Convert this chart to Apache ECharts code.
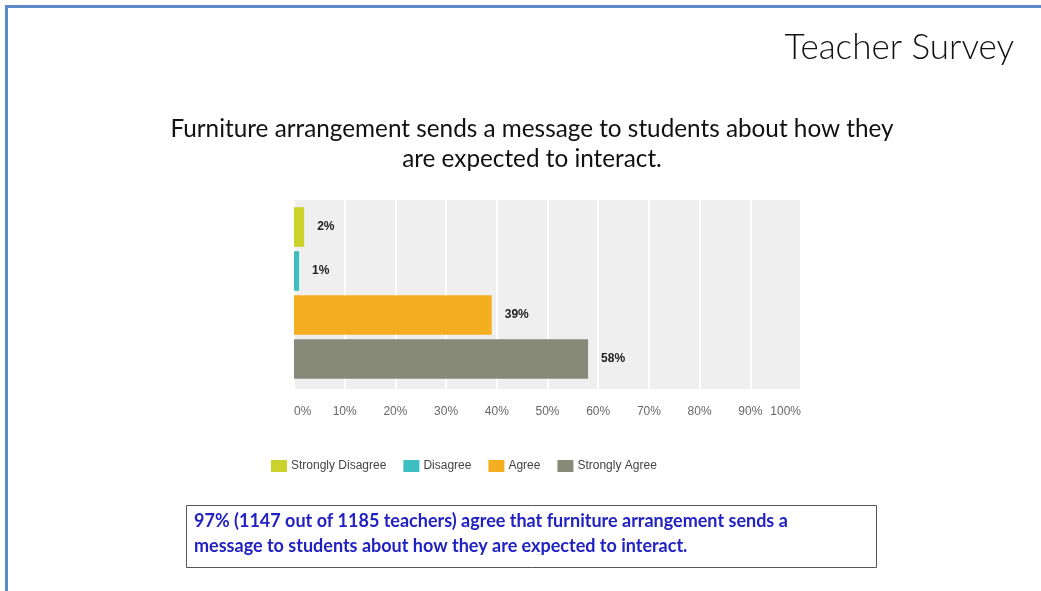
<!DOCTYPE html>
<html>
<head>
<meta charset="utf-8">
<script src="https://cdn.jsdelivr.net/npm/echarts@6/dist/echarts.min.js"></script>
<style>
html,body{margin:0;padding:0;background:#fff;}
#chart{width:1041px;height:591px;}
</style>
</head>
<body>
<div id="chart"></div>
<script>
const categories = ['Strongly Disagree', 'Disagree', 'Agree', 'Strongly Agree'];
const values = [2, 1, 39, 58];
const colors = ['#cbd22c', '#3dbfc2', '#f5ae1f', '#878a78'];
const headerText = 'Teacher Survey';
const questionText = 'Furniture arrangement sends a message to students about how they\nare expected to interact.';
const summaryText = '97% (1147 out of 1185 teachers) agree that furniture arrangement sends a\nmessage to students about how they are expected to interact.';

const chart = echarts.init(document.getElementById('chart'), null, {renderer: 'canvas'});

const series = categories.map((name, i) => ({
  name: name,
  type: 'bar',
  stack: 'all',
  xAxisIndex: 0,
  yAxisIndex: 0,
  barCategoryGap: '10%',
  itemStyle: {color: colors[i]},
  label: {
    show: true,
    position: 'right',
    distance: 13,
    formatter: p => p.value + '%',
    color: '#222',
    fontWeight: 'bold',
    fontFamily: 'Arial, Liberation Sans, sans-serif',
    fontSize: 12
  },
  data: categories.map((c, j) => j === i ? values[i] : '-')
}));

chart.setOption({
  animation: false,
  title: [
    {
      text: headerText, right: 22, top: 25,
      textStyle: {fontFamily: 'Lato', fontWeight: 300, fontSize: 35, color: '#111'}
    },
    {
      text: questionText, left: 527, textAlign: 'center', top: 109,
      textStyle: {fontFamily: 'Lato', fontWeight: 'normal', fontSize: 24.3, color: '#111', lineHeight: 30}
    }
  ],
  legend: {
    left: 271, top: 460, padding: 0,
    itemWidth: 16, itemHeight: 12, itemGap: 17,
    icon: 'rect',
    textStyle: {fontFamily: 'Arial, Liberation Sans, sans-serif', fontSize: 12, color: '#444', padding: [0, 0, 0, -1]},
    data: categories
  },
  grid: [
    {left: 294, width: 507, top: 205, height: 176, containLabel: false},
    {left: 294, width: 507, top: 200, height: 189, show: true, backgroundColor: '#efefef', borderWidth: 0}
  ],
  xAxis: [
    {gridIndex: 0, type: 'value', min: 0, max: 100, show: false},
    {
      gridIndex: 1, type: 'value', min: 0, max: 100, interval: 10,
      axisLine: {show: false}, axisTick: {show: false},
      splitLine: {show: true, lineStyle: {color: '#ffffff', width: 2}},
      axisLabel: {
        formatter: '{value}%', margin: 17, color: '#666',
        fontFamily: 'Arial, Liberation Sans, sans-serif', fontSize: 12,
        alignMinLabel: 'left', alignMaxLabel: 'right'
      }
    }
  ],
  yAxis: [
    {gridIndex: 0, type: 'category', inverse: true, data: categories, show: false},
    {gridIndex: 1, type: 'value', show: false, splitLine: {show: false}}
  ],
  graphic: [
    {type: 'line', shape: {x1: 5, y1: 6.5, x2: 1041, y2: 6.5}, style: {stroke: '#5b8bc8', lineWidth: 3}},
    {type: 'line', shape: {x1: 6.5, y1: 5, x2: 6.5, y2: 591}, style: {stroke: '#5b8bc8', lineWidth: 3}},
    {type: 'rect', shape: {x: 186.5, y: 505.5, width: 690, height: 62}, style: {fill: '#fff', stroke: '#555', lineWidth: 1}},
    {
      type: 'text', left: 194, top: 509,
      style: {text: summaryText, fill: '#2222c4', font: 'bold 18px Lato', lineHeight: 25}
    }
  ],
  series: series
});
</script>
</body>
</html>
